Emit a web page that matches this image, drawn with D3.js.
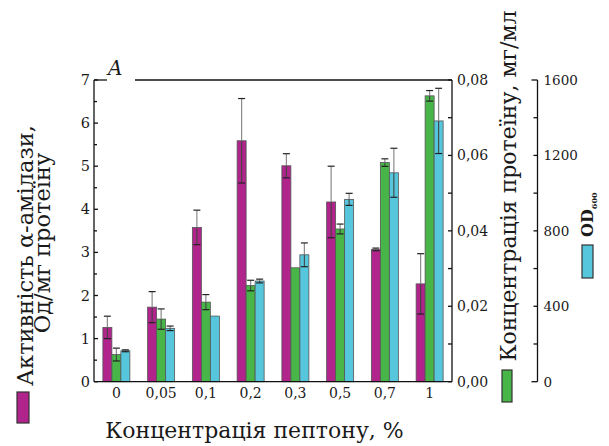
<!DOCTYPE html>
<html><head><meta charset="utf-8">
<script src="https://cdn.jsdelivr.net/npm/d3@7"></script>
<style>body{margin:0;background:#fff}svg{display:block}text{font-family:"DejaVu Serif",serif;fill:#1a1a1a}</style>
</head><body><svg id="c" width="609" height="446"></svg>
<script>
const categories = ["0","0,05","0,1","0,2","0,3","0,5","0,7","1"];
const activity    = [1.26, 1.73, 3.58, 5.59, 5.01, 4.17, 3.07, 2.27];
const activityErr = [0.26, 0.36, 0.40, 0.98, 0.28, 0.83, 0.03, 0.70];
const protein     = [0.0072, 0.0166, 0.0211, 0.0255, 0.0302, 0.0405, 0.0581, 0.0758];
const proteinErr  = [0.0017, 0.0027, 0.0020, 0.0014, 0, 0.0013, 0.0010, 0.0014];
const od600       = [164, 283, 348, 534, 673, 967, 1108, 1383];
const od600Err    = [5, 12, 0, 10, 63, 32, 130, 173];
const leftTicks = [0,1,2,3,4,5,6,7];
const rightTicks = [0.00,0.02,0.04,0.06,0.08];
const odTicks = [0,400,800,1200,1600];

const svg = d3.select("#c");
const L=94, R=452, T=80, B=381.7, ODX=537.5;
const x = d3.scaleBand().domain(categories).range([L,R]).padding(0);
const yA = d3.scaleLinear().domain([0,7]).range([B,T]);
const yP = d3.scaleLinear().domain([0,0.08]).range([B,T]);
const yO = d3.scaleLinear().domain([0,1600]).range([B,T]);
const bw = 9, gw = 27;
const colors = ["#b0248c","#48b548","#56c6dc"];
const series = [
  {v:activity,e:activityErr,y:yA},
  {v:protein,e:proteinErr,y:yP},
  {v:od600,e:od600Err,y:yO}
];
const fmt = d => d3.format(".2f")(d).replace(".",",");

series.forEach((s,i)=>{
  const g = svg.append("g");
  categories.forEach((c,j)=>{
    const x0 = x(c) + (x.bandwidth()-gw)/2 + i*bw;
    g.append("rect").attr("x",x0).attr("y",s.y(s.v[j])).attr("width",bw)
      .attr("height",B-s.y(s.v[j])).attr("fill",colors[i]).attr("stroke","#555").attr("stroke-width",0.8);
  });
});
series.forEach((s,i)=>{
  const g = svg.append("g");
  categories.forEach((c,j)=>{
    if(!s.e[j]) return;
    const cx = x(c) + (x.bandwidth()-gw)/2 + i*bw + bw/2;
    const top = s.y(s.v[j]+s.e[j]), mid = s.y(s.v[j]), bot = s.y(s.v[j]-s.e[j]);
    g.append("line").attr("x1",cx).attr("x2",cx).attr("y1",top).attr("y2",mid).attr("stroke","#8a8a8a").attr("stroke-width",1.2);
    g.append("line").attr("x1",cx).attr("x2",cx).attr("y1",mid).attr("y2",bot).attr("stroke","#444").attr("stroke-width",1.1);
    [top,bot].forEach(yy=>g.append("line").attr("x1",cx-3.5).attr("x2",cx+3.5).attr("y1",yy).attr("y2",yy).attr("stroke","#222").attr("stroke-width",1.2));
  });
});

const ax = svg.append("g").attr("stroke","#111").attr("stroke-width",1.3).attr("fill","none");
ax.append("line").attr("x1",L).attr("x2",L).attr("y1",T).attr("y2",B);
ax.append("line").attr("x1",R).attr("x2",R).attr("y1",T).attr("y2",B);
ax.append("line").attr("x1",L).attr("x2",R).attr("y1",B).attr("y2",B);
ax.append("line").attr("x1",L).attr("x2",107).attr("y1",T).attr("y2",T);
ax.append("line").attr("x1",135).attr("x2",R).attr("y1",T).attr("y2",T);

d3.range(0,7.01,0.5).forEach(v=>{
  ax.append("line").attr("x1",L).attr("x2",L+(v%1===0?4:3)).attr("y1",yA(v)).attr("y2",yA(v));
});
svg.append("g").selectAll("text").data(leftTicks).join("text")
  .attr("x",L-4).attr("y",d=>yA(d)+5).attr("text-anchor","end").attr("font-size",14.5).text(d=>d);

d3.range(0,9).forEach(k=>{
  const v=k*0.01;
  ax.append("line").attr("x1",R).attr("x2",R-4).attr("y1",yP(v)).attr("y2",yP(v));
});
svg.append("g").selectAll("text").data(rightTicks).join("text")
  .attr("x",R+5).attr("y",d=>yP(d)+5).attr("font-size",14).text(fmt);

ax.append("line").attr("x1",ODX).attr("x2",ODX).attr("y1",T).attr("y2",B);
d3.range(0,1601,200).forEach(v=>{
  const len = (v===0||v===1600)?6:4;
  ax.append("line").attr("x1",ODX).attr("x2",ODX-len).attr("y1",yO(v)).attr("y2",yO(v));
});
svg.append("g").selectAll("text").data(odTicks).join("text")
  .attr("x",ODX+6).attr("y",d=>yO(d)+5).attr("font-size",13.5).text(d=>d);

svg.append("g").selectAll("text").data(categories).join("text")
  .attr("x",d=>x(d)+x.bandwidth()/2).attr("y",398).attr("text-anchor","middle").attr("font-size",14).text(d=>d);

svg.append("text").attr("x",254.5).attr("y",438).attr("text-anchor","middle").attr("font-size",22).text("Концентрація пептону, %");
svg.append("text").attr("transform","translate(33,255.5) rotate(-90)").attr("text-anchor","middle").attr("font-size",22.5).text("Активність α-амілази,");
svg.append("text").attr("transform","translate(50,243) rotate(-90)").attr("text-anchor","middle").attr("font-size",22.5).text("Од/мг протеїну");
svg.append("text").attr("transform","translate(516,186) rotate(-90)").attr("text-anchor","middle").attr("font-size",22).text("Концентрація протеїну, мг/мл");
const od = svg.append("text").attr("transform","translate(593,237) rotate(-90)").attr("font-size",16).attr("font-weight","bold");
od.append("tspan").text("OD");
od.append("tspan").attr("font-size",8).attr("dy",4).text("600");
svg.append("text").attr("x",108).attr("y",75).attr("font-size",20).attr("font-style","italic").text("A");

const sw = [{x:17,y:392,w:12,h:31,c:colors[0]},{x:502,y:370,w:10,h:32,c:colors[1]},{x:582,y:245,w:11,h:33,c:colors[2]}];
svg.append("g").selectAll("rect").data(sw).join("rect")
  .attr("x",d=>d.x).attr("y",d=>d.y).attr("width",d=>d.w).attr("height",d=>d.h)
  .attr("fill",d=>d.c).attr("stroke","#333").attr("stroke-width",1.2);
</script></body></html>
